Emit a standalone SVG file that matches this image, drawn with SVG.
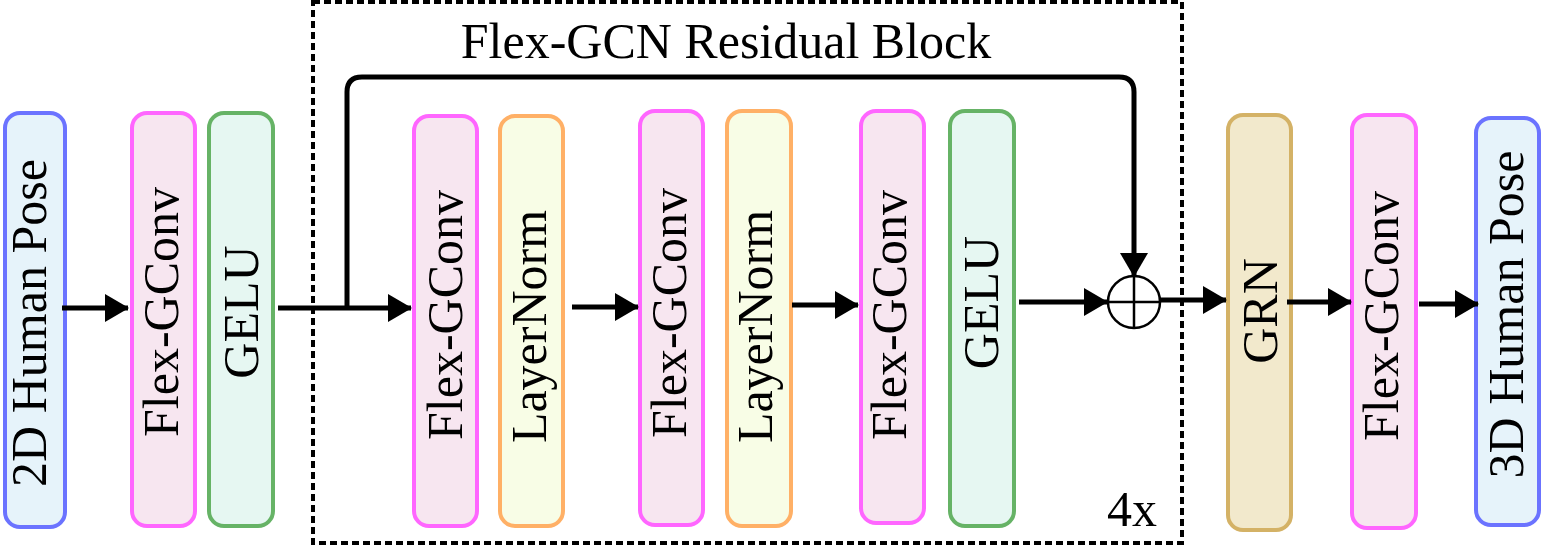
<svg xmlns="http://www.w3.org/2000/svg" width="1543" height="546" viewBox="0 0 1543 546">
<style>
.box{stroke-width:4}
.blue{fill:#E6F3FA;stroke:#6B73FF}
.pink{fill:#F7E6F0;stroke:#FF66FF}
.green{fill:#E6F7F2;stroke:#66B366}
.orange{fill:#F8FDE6;stroke:#FFB066}
.tan{fill:#F2E9CC;stroke:#D4B266}
text{font-family:"Liberation Serif","Times New Roman",serif;font-size:50px;fill:#000}
.lbl{text-anchor:middle}
.arrow{stroke:#000;stroke-width:5;fill:none;marker-end:url(#ah)}
.thin{stroke:#000;stroke-width:2.5;fill:none}
</style>
<defs>
<marker id="ah" markerUnits="userSpaceOnUse" viewBox="0 0 24 28" markerWidth="24" markerHeight="28" refX="23" refY="14" orient="auto">
<path d="M0,0 L24,14 L0,28 z" fill="#000"/>
</marker>
</defs>
<g id="residual-block">
<rect x="313" y="2" width="869" height="541" fill="none" stroke="#000" stroke-width="4" stroke-dasharray="7,4"/>
<text x="726" y="58" class="lbl">Flex-GCN Residual Block</text>
<text x="1107" y="526">4x</text>
</g>
<g id="n-2d">
<rect class="box blue" x="5" y="113" width="60" height="414" rx="15"/>
<text class="lbl" transform="translate(46,323) rotate(-90)">2D Human Pose</text>
</g>
<g id="n-fg1">
<rect class="box pink" x="132" y="113" width="63" height="413" rx="15"/>
<text class="lbl" transform="translate(178,312) rotate(-90)">Flex-GConv</text>
</g>
<g id="n-gelu1">
<rect class="box green" x="209" y="113" width="64" height="413" rx="15"/>
<text class="lbl" transform="translate(258,312) rotate(-90)">GELU</text>
</g>
<g id="n-fg2">
<rect class="box pink" x="414" y="116" width="63" height="410" rx="15"/>
<text class="lbl" transform="translate(462,315) rotate(-90)">Flex-GConv</text>
</g>
<g id="n-ln1">
<rect class="box orange" x="500" y="116" width="63" height="410" rx="15"/>
<text class="lbl" transform="translate(546,326.5) rotate(-90)">LayerNorm</text>
</g>
<g id="n-fg3">
<rect class="box pink" x="640" y="111" width="63" height="414" rx="15"/>
<text class="lbl" transform="translate(686,313) rotate(-90)">Flex-GConv</text>
</g>
<g id="n-ln2">
<rect class="box orange" x="727" y="111" width="64" height="415" rx="15"/>
<text class="lbl" transform="translate(772,326.5) rotate(-90)">LayerNorm</text>
</g>
<g id="n-fg4">
<rect class="box pink" x="861" y="111" width="63" height="412" rx="15"/>
<text class="lbl" transform="translate(906,315) rotate(-90)">Flex-GConv</text>
</g>
<g id="n-gelu2">
<rect class="box green" x="950" y="111" width="64" height="415" rx="15"/>
<text class="lbl" transform="translate(998,302.5) rotate(-90)">GELU</text>
</g>
<g id="n-add">
<circle cx="1134" cy="302" r="26" fill="#fff" stroke="#000" stroke-width="2.5"/>
<line class="thin" x1="1134" y1="276" x2="1134" y2="328"/>
<line class="thin" x1="1108" y1="302" x2="1160" y2="302"/>
</g>
<g id="n-grn">
<rect class="box tan" x="1228" y="115" width="63" height="415" rx="15"/>
<text class="lbl" transform="translate(1277,311) rotate(-90)">GRN</text>
</g>
<g id="n-fg5">
<rect class="box pink" x="1352" y="115" width="64" height="413" rx="15"/>
<text class="lbl" transform="translate(1398,316) rotate(-90)">Flex-GConv</text>
</g>
<g id="n-3d">
<rect class="box blue" x="1476" y="118" width="63" height="407" rx="15"/>
<text class="lbl" transform="translate(1523,314.5) rotate(-90)">3D Human Pose</text>
</g>
<g id="connectors">
<line class="arrow" x1="62" y1="308" x2="128" y2="308"/>
<line class="arrow" x1="278" y1="308" x2="411" y2="308"/>
<line class="arrow" x1="572" y1="307" x2="638" y2="307"/>
<line class="arrow" x1="792" y1="305" x2="858" y2="305"/>
<line class="arrow" x1="1019" y1="302" x2="1107" y2="302"/>
<line class="arrow" x1="1160" y1="300" x2="1226" y2="300"/>
<line class="arrow" x1="1287" y1="302" x2="1351" y2="302"/>
<line class="arrow" x1="1419" y1="304" x2="1478" y2="304"/>
<path class="arrow" d="M347,308 V92 Q347,77 362,77 H1119 Q1134,77 1134,92 V276"/>
</g>
</svg>
